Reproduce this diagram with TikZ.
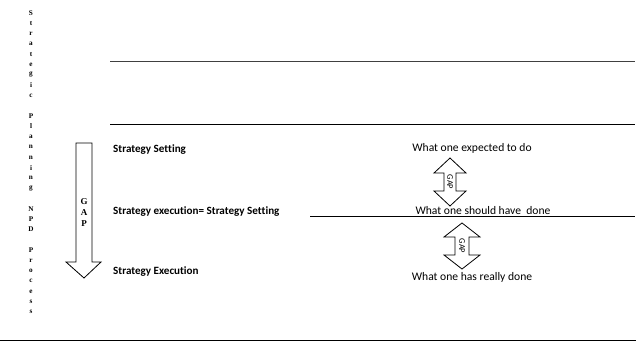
\documentclass[tikz,border=0pt]{standalone}
\usepackage{fontspec}
\setmainfont{Carlito}[Ligatures=NoCommon]
\newfontfamily\letterfont{Liberation Serif}
\begin{document}
\begin{tikzpicture}[x=1pt,y=-1pt,
  rule/.style={line width=1pt},
  arrowshape/.style={draw, line width=0.8pt, fill=white, line join=miter},
  vletter/.style={font=\letterfont\bfseries\fontsize{7.2}{7}\selectfont, inner sep=0pt},
  stagetext/.style={font=\bfseries\fontsize{11.1}{13}\selectfont, anchor=west, inner sep=0pt},
  outcome/.style={font=\fontsize{11.6}{13}\selectfont, inner sep=0pt},
  gaplabel/.style={font=\fontsize{8.5}{8}\selectfont, rotate=-90, inner sep=0pt},
  gapletter/.style={font=\letterfont\bfseries\fontsize{9}{9}\selectfont, inner sep=0pt}]
\useasboundingbox (0,0) rectangle (636,344);

% vertical title, one letter per line
\foreach \ch [count=\i from 0] in {S,t,r,a,t,e,g,i,c,{},P,l,a,n,n,i,n,g,{},N,P,D,{},P,r,o,c,e,s,s}
  \node[vletter] (v\i) at (31,{13+10.31*\i}) {\ch};

% horizontal rules
\coordinate (r1a) at (110,62);  \coordinate (r1b) at (635,62);
\coordinate (r2a) at (110,125); \coordinate (r2b) at (635,125);
\coordinate (r3a) at (310,217); \coordinate (r3b) at (635,217);
\coordinate (r4a) at (0,340);   \coordinate (r4b) at (636,340);
\draw[rule, black!75] (r1a) -- (r1b);
\draw[rule] (r2a) -- (r2b);
\draw[rule] (r3a) -- (r3b);
\draw[rule] (r4a) -- (r4b);

% large downward gap arrow
\draw[arrowshape] (76,143) -- (92,143) -- (92,262) -- (101,262) -- (84,278)
  -- (66,262) -- (76,262) -- cycle;
\node[gapletter] (gG) at (84,202) {G};
\node[gapletter] (gA) at (84,213) {A};
\node[gapletter] (gP) at (84,224) {P};

% stage labels
\node[stagetext] (set) at (113,150) {Strategy Setting};
\node[stagetext] (eq)  at (113,212) {Strategy execution= Strategy Setting};
\node[stagetext] (exe) at (113,272) {Strategy Execution};

% outcome labels
\node[outcome] (exp)    at (472,148) {What one expected to do};
\node[outcome] (should) at (483,211) {What one should have\ \ done};
\node[outcome] (really) at (472,277) {What one has really done};

% upper double arrow
\draw[arrowshape] (450,158) -- (466,173) -- (456,173) -- (456,191) -- (466,191)
  -- (450,206) -- (434,191) -- (444,191) -- (444,173) -- (434,173) -- cycle;
\node[gaplabel] (gap1) at (450,182) {GAP};

% lower double arrow
\draw[arrowshape] (462,223) -- (480,237) -- (469,237) -- (469,255) -- (480,255)
  -- (462,269) -- (444,255) -- (455,255) -- (455,237) -- (444,237) -- cycle;
\node[gaplabel] (gap2) at (462,246) {GAP};
\end{tikzpicture}
\end{document}
